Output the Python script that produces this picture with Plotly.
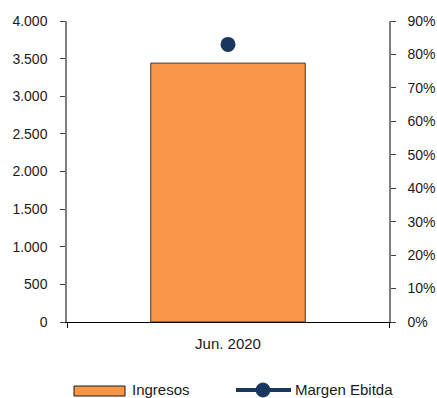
import plotly.graph_objects as go

categories = ["Jun. 2020"]
ingresos = [3440]
margen_ebitda = [0.83]

W, H = 437, 398
L, R, T, B = 67, 48, 21, 76
pw, ph = W - L - R, H - T - B

def px(x):
    return (x - L) / pw

def py(y):
    return (H - B - y) / ph

FAM = "Liberation Sans, Arial, sans-serif"
tickfont = dict(family=FAM, size=14, color="#1a1a1a")
labfont = dict(family=FAM, size=15, color="#1a1a1a")

fig = go.Figure()
fig.add_trace(go.Bar(
    x=categories, y=ingresos, name="Ingresos",
    marker=dict(color="#F79646", line=dict(color="#3a3a3a", width=1)),
    width=0.48, showlegend=False,
))
fig.add_trace(go.Scatter(
    x=categories, y=margen_ebitda, name="Margen Ebitda", yaxis="y2",
    mode="lines+markers",
    line=dict(color="#17375E", width=4),
    marker=dict(color="#17375E", size=15),
    showlegend=False,
))

fig.update_layout(
    width=W, height=H,
    margin=dict(l=L, r=R, t=T, b=B, autoexpand=False),
    paper_bgcolor="white", plot_bgcolor="white",
    separators=",.",
    font=tickfont,
    xaxis=dict(
        showline=True, linecolor="#000000", linewidth=1,
        ticks="outside", ticklen=5, tickcolor="#000000",
        tickson="boundaries", showgrid=False, zeroline=False,
        tickfont=labfont, ticklabelstandoff=8, automargin=False,
    ),
    yaxis=dict(
        range=[0, 4000], dtick=500, tickformat=",d",
        showline=True, linecolor="#808080", linewidth=1.5,
        ticks="outside", ticklen=5, tickcolor="#404040",
        showgrid=False, zeroline=False,
        tickfont=tickfont, ticklabelstandoff=10, automargin=False,
    ),
    yaxis2=dict(
        range=[0, 0.9], dtick=0.1, tickformat=".0%",
        overlaying="y", side="right",
        showline=True, linecolor="#808080", linewidth=1.5,
        ticks="outside", ticklen=5, tickcolor="#404040",
        showgrid=False, zeroline=False,
        tickfont=tickfont, ticklabelstandoff=9, automargin=False,
    ),
    shapes=[
        dict(type="rect", xref="paper", yref="paper",
             x0=px(74), x1=px(125), y0=py(386), y1=py(396),
             fillcolor="#F79646", line=dict(color="#1a1a1a", width=1)),
        dict(type="line", xref="paper", yref="paper",
             x0=px(236), x1=px(291), y0=py(390), y1=py(390),
             line=dict(color="#17375E", width=4)),
        dict(type="circle", xref="paper", yref="paper",
             x0=px(256), x1=px(270), y0=py(383), y1=py(397),
             fillcolor="#17375E", line=dict(color="#17375E", width=1)),
    ],
    annotations=[
        dict(xref="paper", yref="paper", x=px(130), y=py(389),
             text="Ingresos", showarrow=False, xanchor="left", yanchor="middle",
             font=labfont),
        dict(xref="paper", yref="paper", x=px(293), y=py(389),
             text="Margen Ebitda", showarrow=False, xanchor="left", yanchor="middle",
             font=labfont),
    ],
)

fig.write_html("out.html")
